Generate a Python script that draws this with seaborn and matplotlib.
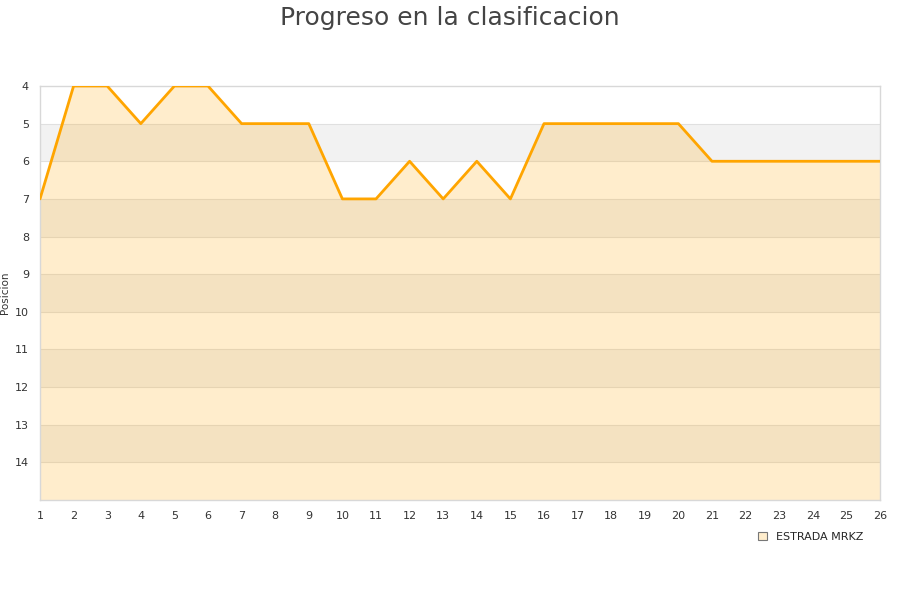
import matplotlib
matplotlib.use("Agg")
import matplotlib.pyplot as plt
from matplotlib.patches import Patch
import seaborn as sns
import pandas as pd

jornadas = list(range(1, 27))
posiciones = [7, 4, 4, 5, 4, 4, 5, 5, 5, 7, 7, 6, 7, 6, 7, 5, 5, 5, 5, 5, 6, 6, 6, 6, 6, 6]
equipo = "ESTRADA MRKZ"
y_ticks = list(range(4, 15))

df = pd.DataFrame({"Jornada": jornadas, "Posicion": posiciones})

sns.set_style("white")
plt.rcParams['font.family'] = ['DejaVu Sans']

fig = plt.figure(figsize=(9, 6), dpi=100)
ax = fig.add_axes([40/900, 100/600, 840/900, 414/600])

# alternating bands
for k in range(4, 15):
    if k % 2 == 1:
        ax.axhspan(k, k + 1, color="#f2f2f2", zorder=0, lw=0)
for k in range(5, 15):
    ax.axhline(k, color="#e0e0e0", lw=0.8, zorder=0.5)

ax.fill_between(df["Jornada"], df["Posicion"], 15, color="#ffa500", alpha=0.2, lw=0, zorder=1)
sns.lineplot(data=df, x="Jornada", y="Posicion", color="#ffa500", lw=2.0, ax=ax, zorder=3)

ax.set_xlim(1, 26)
ax.set_ylim(15, 4)
ax.set_xticks(jornadas)
ax.set_yticks(y_ticks)
ax.tick_params(axis="both", length=0, labelsize=8, labelcolor="#333333", pad=8)
ax.set_xlabel("")
ax.set_ylabel("Posicion", fontsize=7.5, color="#333333")
ax.yaxis.set_label_coords(-30/840, 0.5)
for s in ax.spines.values():
    s.set_color("#d8d8d8")
    s.set_linewidth(1)

fig.suptitle("Progreso en la clasificacion", fontsize=18, color="#444444", y=0.99)

handle = Patch(facecolor="#ffedcc", edgecolor="#777777", lw=0.8)
fig.legend([handle], [equipo], loc="center left", bbox_to_anchor=(748/900, 1 - 537/600),
           frameon=False, fontsize=8, handlelength=0.8, handleheight=0.8, handletextpad=0.8)

fig.savefig("out.png", dpi=100)
